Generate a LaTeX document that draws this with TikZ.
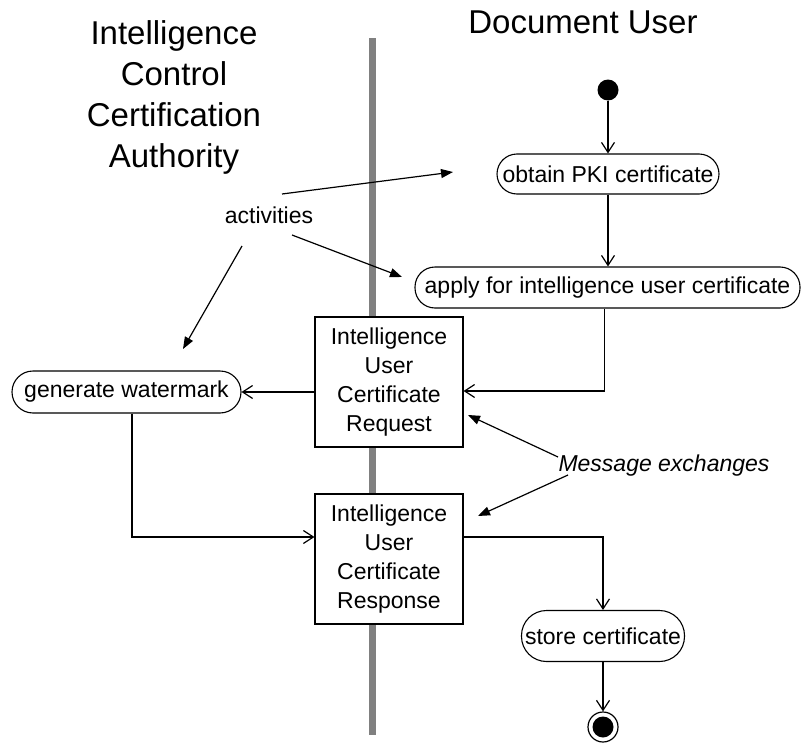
\documentclass[tikz,border=0pt]{standalone}
\usepackage{fontspec}
\setmainfont{Liberation Sans}
\usetikzlibrary{arrows.meta}
\definecolor{lanegray}{HTML}{808080}
\begin{document}
\begin{tikzpicture}[x=1pt,y=-1pt,
  flow/.style={line width=1.2pt,-{Straight Barb[length=10pt,width=13pt,line width=1.2pt]}},
  note/.style={line width=1.2pt,-{Triangle[length=12pt,width=9pt]}},
  act/.style={draw,line width=1.1pt,rounded corners=20pt,inner sep=0pt,minimum height=40pt,font=\fontsize{23}{29}\selectfont},
  obj/.style={draw,fill=white,line width=1.1pt,inner sep=0pt,minimum width=148pt,minimum height=130pt,align=center,font=\fontsize{23}{29}\selectfont},
  title/.style={inner sep=0pt,align=center,font=\fontsize{33}{41}\selectfont},
  txt/.style={inner sep=0pt,font=\fontsize{23}{29}\selectfont}
]
\useasboundingbox (0,0) rectangle (804,744);
% swimlane divider
\fill[lanegray] (369,38) rectangle (376,735);

% titles
\node[title] (lefttitle) at (174,97) {Intelligence\\Control\\Certification\\Authority};
\node[title] (righttitle) at (583,22) {Document User};

% activity flow
\node[circle,fill,minimum size=21pt,inner sep=0pt] (start) at (608,90) {};
\node[act,minimum width=222pt] (obtain) at (608,174) {obtain PKI certificate};
\node[act,minimum width=385pt,minimum height=41pt] (apply) at (607.5,287.5) {apply for intelligence user certificate};
\node[obj] (req) at (389,382) {Intelligence\\User\\Certificate\\Request};
\node[act,minimum width=229pt,minimum height=42pt,rounded corners=21pt] (gen) at (126.5,392) {generate watermark};
\node[obj] (resp) at (389,559) {Intelligence\\User\\Certificate\\Response};
\node[act,minimum width=163pt,minimum height=51pt,rounded corners=25pt] (store) at (603,636) {store certificate};
\node[circle,draw,line width=1.2pt,minimum size=30pt,inner sep=0pt] (end) at (603,727) {};
\fill (end.center) circle (10.5pt);

\draw[flow] (start) -- (obtain.north);
\draw[flow] (obtain.south) -- (obtain.south |- apply.north);
\draw[flow] ([xshift=-3pt]apply.south) |- ([yshift=-9pt]req.east);
\draw[flow] (req.west |- gen.east) -- (gen.east);
\draw[flow] ([xshift=5.5pt]gen.south) |- ([yshift=22pt]resp.west);
\draw[flow] ([yshift=22pt]resp.east) -| (store.north);
\draw[flow] (store.south) -- (end.north);

% annotations
\node[txt] (activities) at (269,215) {activities};
\coordinate (a1s) at (282,194); \coordinate (a1e) at (453,172);
\coordinate (a2s) at (292,235); \coordinate (a2e) at (402,277);
\coordinate (a3s) at (242,246); \coordinate (a3e) at (183,349);
\draw[note] (a1s) -- (a1e);
\draw[note] (a2s) -- (a2e);
\draw[note] (a3s) -- (a3e);

\node[txt,font=\fontsize{23}{29}\selectfont\itshape] (msg) at (664,466) {Message exchanges};
\coordinate (m1s) at (558,457); \coordinate (m1e) at (468,415);
\coordinate (m2s) at (568,475); \coordinate (m2e) at (478,516);
\draw[note] (m1s) -- (m1e);
\draw[note] (m2s) -- (m2e);
\end{tikzpicture}
\end{document}
